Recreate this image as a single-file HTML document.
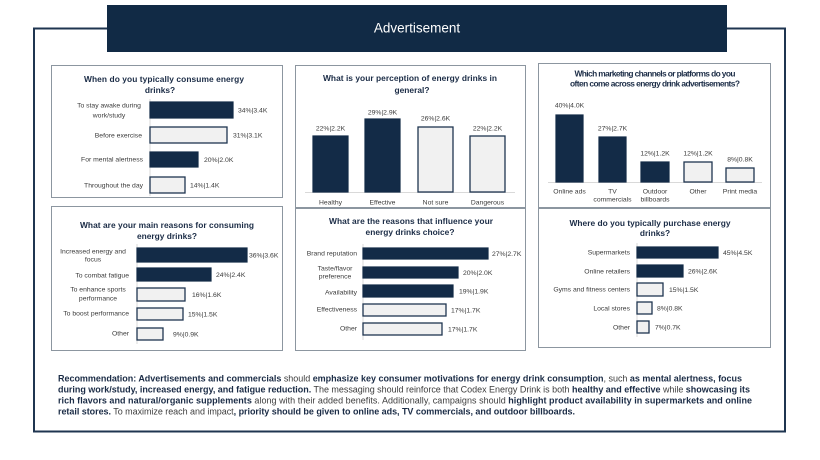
<!DOCTYPE html>
<html><head><meta charset="utf-8">
<style>
html,body{margin:0;padding:0;background:#fff;}
svg{display:block;font-family:"Liberation Sans",Arial,sans-serif;}
.t{font-weight:bold;fill:#1b2c46;font-size:8.4px;text-anchor:middle;}
.c{fill:#3a3a3a;font-size:6.8px;}
.v{fill:#3a3a3a;font-size:6.8px;}
.d{fill:#132b47;stroke:#132b47;stroke-width:1.2;}
.l{fill:#f1f1f1;stroke:#1f3550;stroke-width:1.3;}
.p{font-size:9px;fill:#3d3d3d;}
.b{font-weight:bold;fill:#1b2c46;}
</style></head>
<body>
<svg width="820" height="460" viewBox="0 0 820 460" xmlns="http://www.w3.org/2000/svg">
<!-- outer frame -->
<rect x="34" y="28.5" width="751" height="403" fill="none" stroke="#1f3550" stroke-width="2"/>
<!-- banner -->
<rect x="107" y="5" width="620" height="47" fill="#112a45"/>
<text x="417" y="32.5" fill="#fff" font-size="13.5" text-anchor="middle">Advertisement</text>

<!-- panels -->
<g fill="#fff" stroke="#8c96a0" stroke-width="1">
<rect x="51.5" y="65.5" width="231" height="132"/>
<rect x="295.5" y="65.5" width="230" height="142"/>
<rect x="538.5" y="63.5" width="232" height="144"/>
<rect x="51.5" y="206.5" width="231" height="144"/>
<rect x="295.5" y="208.5" width="230" height="142"/>
<rect x="538.5" y="208.5" width="232" height="139"/>
</g>

<!-- Panel 1 -->
<text class="t" x="164" y="82" textLength="160">When do you typically consume energy</text>
<text class="t" x="160" y="93">drinks?</text>
<line x1="150" y1="99" x2="150" y2="196" stroke="#d9d9d9"/>
<rect class="d" x="150" y="102" width="83" height="16"/>
<rect class="l" x="150" y="127" width="77" height="16"/>
<rect class="d" x="150" y="152" width="48" height="15"/>
<rect class="l" x="150" y="177" width="35" height="16"/>
<g class="v">
<text x="238" y="112.5">34%|3.4K</text>
<text x="233" y="137.5">31%|3.1K</text>
<text x="204" y="162">20%|2.0K</text>
<text x="190" y="187.5">14%|1.4K</text>
</g>
<g class="c" text-anchor="middle">
<text x="109" y="107.5">To stay awake during</text>
<text x="109" y="117.5">work/study</text>
</g>
<g class="c" text-anchor="end">
<text x="142" y="137.5">Before exercise</text>
<text x="143" y="161.5">For mental alertness</text>
<text x="143" y="187.5">Throughout the day</text>
</g>

<!-- Panel 2 -->
<text class="t" x="410" y="81" textLength="174">What is your perception of energy drinks in</text>
<text class="t" x="412" y="93">general?</text>
<line x1="305" y1="192.5" x2="515" y2="192.5" stroke="#d9d9d9"/>
<rect class="d" x="313" y="136" width="35" height="56"/>
<rect class="d" x="365" y="119" width="35" height="73"/>
<rect class="l" x="418" y="127" width="35" height="65"/>
<rect class="l" x="470" y="136" width="35" height="56"/>
<g class="v" text-anchor="middle">
<text x="330.5" y="130.5">22%|2.2K</text>
<text x="382.5" y="114.5">29%|2.9K</text>
<text x="435.5" y="120.5">26%|2.6K</text>
<text x="487.5" y="130.5">22%|2.2K</text>
</g>
<g class="c" text-anchor="middle">
<text x="330.5" y="204.5">Healthy</text>
<text x="382.5" y="204.5">Effective</text>
<text x="435.5" y="204.5">Not sure</text>
<text x="487.5" y="204.5">Dangerous</text>
</g>

<!-- Panel 3 -->
<text class="t" x="655" y="76.5" font-size="7" textLength="161">Which marketing channels or platforms do you</text>
<text class="t" x="655" y="86.5" font-size="7" textLength="170">often come across energy drink advertisements?</text>
<line x1="548" y1="182.5" x2="762" y2="182.5" stroke="#d9d9d9"/>
<rect class="d" x="556" y="115" width="27" height="67"/>
<rect class="d" x="599" y="137" width="27" height="45"/>
<rect class="d" x="641" y="162" width="28" height="20"/>
<rect class="l" x="684" y="162" width="28" height="20"/>
<rect class="l" x="726" y="168" width="28" height="14"/>
<g class="v" text-anchor="middle">
<text x="569.5" y="107.5">40%|4.0K</text>
<text x="612.5" y="130.5">27%|2.7K</text>
<text x="655" y="155.5">12%|1.2K</text>
<text x="698" y="155.5">12%|1.2K</text>
<text x="740" y="161.5">8%|0.8K</text>
</g>
<g class="c" text-anchor="middle">
<text x="569.5" y="193.5">Online ads</text>
<text x="612.5" y="193.5">TV</text>
<text x="612.5" y="201.5">commercials</text>
<text x="655" y="193.5">Outdoor</text>
<text x="655" y="201.5">billboards</text>
<text x="698" y="193.5">Other</text>
<text x="740" y="193.5">Print media</text>
</g>

<!-- Panel 4 -->
<text class="t" x="167" y="228" textLength="174">What are your main reasons for  consuming</text>
<text class="t" x="167" y="239">energy drinks?</text>
<line x1="137" y1="244" x2="137" y2="344" stroke="#d9d9d9"/>
<rect class="d" x="137" y="248" width="110" height="14"/>
<rect class="d" x="137" y="268" width="74" height="13"/>
<rect class="l" x="137" y="288" width="48" height="13"/>
<rect class="l" x="137" y="308" width="46" height="12"/>
<rect class="l" x="137" y="328" width="26" height="12"/>
<g class="v">
<text x="249" y="257.5">36%|3.6K</text>
<text x="216" y="277">24%|2.4K</text>
<text x="192" y="297">16%|1.6K</text>
<text x="188" y="316.5">15%|1.5K</text>
<text x="173" y="336.5">9%|0.9K</text>
</g>
<g class="c" text-anchor="middle">
<text x="93" y="253.5">Increased energy and</text>
<text x="93" y="261.5">focus</text>
<text x="98" y="291.5">To enhance sports</text>
<text x="98" y="300.5">performance</text>
</g>
<g class="c" text-anchor="end">
<text x="129" y="277.5">To combat fatigue</text>
<text x="129" y="315.5">To boost performance</text>
<text x="129" y="335.5">Other</text>
</g>

<!-- Panel 5 -->
<text class="t" x="411" y="224" textLength="164">What are the reasons that influence your</text>
<text class="t" x="410" y="235">energy drinks choice?</text>
<line x1="363" y1="244" x2="363" y2="340" stroke="#d9d9d9"/>
<rect class="d" x="363" y="248" width="125" height="11"/>
<rect class="d" x="363" y="267" width="95" height="11"/>
<rect class="d" x="363" y="285" width="90" height="12"/>
<rect class="l" x="363" y="304" width="83" height="12"/>
<rect class="l" x="363" y="323" width="79" height="12"/>
<g class="v">
<text x="492" y="256">27%|2.7K</text>
<text x="463" y="275">20%|2.0K</text>
<text x="459" y="293.5">19%|1.9K</text>
<text x="451" y="312.5">17%|1.7K</text>
<text x="448" y="331.5">17%|1.7K</text>
</g>
<g class="c" text-anchor="middle">
<text x="335" y="270.5">Taste/flavor</text>
<text x="335" y="278.5">preference</text>
</g>
<g class="c" text-anchor="end">
<text x="357" y="255.5">Brand reputation</text>
<text x="357" y="294.5">Availability</text>
<text x="357" y="311.5">Effectiveness</text>
<text x="357" y="330.5">Other</text>
</g>

<!-- Panel 6 -->
<text class="t" x="650" y="226" textLength="161">Where do you typically purchase energy</text>
<text class="t" x="655" y="236">drinks?</text>
<line x1="637" y1="243" x2="637" y2="337" stroke="#d9d9d9"/>
<rect class="d" x="637" y="247" width="81" height="11"/>
<rect class="d" x="637" y="265" width="46" height="12"/>
<rect class="l" x="637" y="283" width="26" height="13"/>
<rect class="l" x="637" y="302" width="15" height="12"/>
<rect class="l" x="637" y="321" width="12" height="12"/>
<g class="v">
<text x="723" y="255">45%|4.5K</text>
<text x="688" y="273.5">26%|2.6K</text>
<text x="669" y="292">15%|1.5K</text>
<text x="657" y="310.5">8%|0.8K</text>
<text x="655" y="329.5">7%|0.7K</text>
</g>
<g class="c" text-anchor="end">
<text x="630" y="254.5">Supermarkets</text>
<text x="630" y="273.5">Online retailers</text>
<text x="630" y="291.5">Gyms and fitness centers</text>
<text x="630" y="310.5">Local stores</text>
<text x="630" y="329.5">Other</text>
</g>

<!-- Recommendation paragraph -->
<text class="p" x="58" y="381.5" textLength="684"><tspan class="b">Recommendation: Advertisements and commercials</tspan> should <tspan class="b">emphasize key consumer motivations for energy drink consumption</tspan>, such <tspan class="b">as mental alertness, focus</tspan></text>
<text class="p" x="58" y="392.5" textLength="692"><tspan class="b">during work/study, increased energy, and fatigue reduction.</tspan> The messaging should reinforce that Codex Energy Drink is both <tspan class="b">healthy and effective</tspan> while <tspan class="b">showcasing its</tspan></text>
<text class="p" x="58" y="403.5" textLength="694"><tspan class="b">rich flavors and natural/organic supplements</tspan> along with their added benefits. Additionally, campaigns should <tspan class="b">highlight product availability in supermarkets and online</tspan></text>
<text class="p" x="58" y="414.5" textLength="517"><tspan class="b">retail stores.</tspan> To maximize reach and impact<tspan class="b">, priority should be given to online ads, TV commercials, and outdoor billboards.</tspan></text>
</svg>
</body></html>
